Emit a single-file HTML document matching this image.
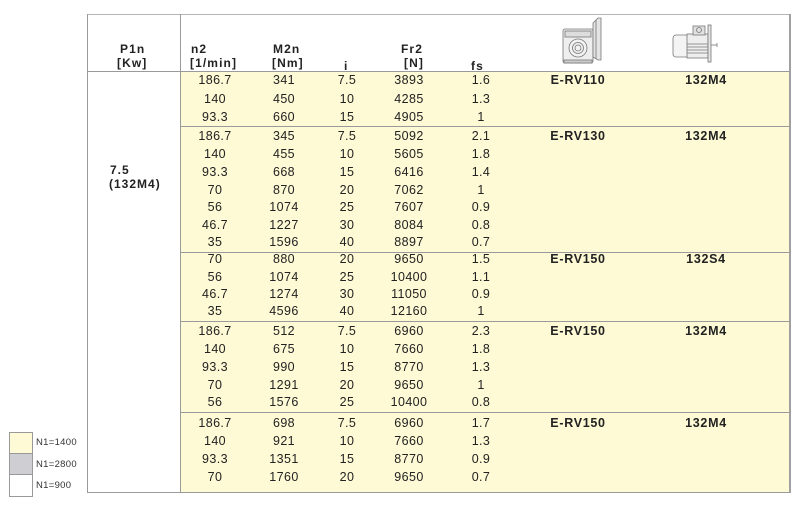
<!DOCTYPE html>
<html><head><meta charset="utf-8">
<style>
*{margin:0;padding:0;box-sizing:border-box}
html,body{width:800px;height:515px;background:#fff;overflow:hidden}
body{position:relative;font-family:"Liberation Sans",Arial,sans-serif;color:#222}
.abs{position:absolute}
.yel{position:absolute;left:181px;top:72px;width:608px;height:420px;background:#fefad5}
.hl{position:absolute;height:1px;background:#9a9a9a}
.vl{position:absolute;width:1px;background:#9a9a9a}
.r{position:absolute;left:0;width:800px;height:16px;line-height:16px;font-size:12.5px;letter-spacing:0.4px}
.r span{position:absolute;width:100px;text-align:center;top:0}
.c1{left:165px}.c2{left:234px}.c3{left:297px}.c4{left:359px}.c5{left:431px}
.m{position:absolute;width:120px;text-align:center;font-weight:bold;font-size:12.5px;letter-spacing:0.7px;line-height:16px;height:16px}
.h{position:absolute;font-weight:bold;font-size:12px;letter-spacing:1.1px;line-height:14px;white-space:nowrap}
.leg{position:absolute;left:9px;width:24px;height:22px;border:1px solid #999}
.lt{position:absolute;left:36px;font-size:9.5px;letter-spacing:0.3px;color:#333;line-height:10px}
</style></head><body>
<div class="yel"></div>
<!-- borders -->
<div class="hl" style="left:87px;top:14px;width:703px;background:#b5b5b5"></div>
<div class="hl" style="left:87px;top:71px;width:703px"></div>
<div class="hl" style="left:87px;top:492px;width:703px"></div>
<div class="vl" style="left:87px;top:14px;height:479px"></div>
<div class="vl" style="left:180px;top:14px;height:479px"></div>
<div class="vl" style="left:789px;top:14px;height:479px;width:1.5px;background:#a0a0a0"></div>
<div class="hl" style="left:180px;top:126px;width:609px"></div>
<div class="hl" style="left:180px;top:252px;width:609px"></div>
<div class="hl" style="left:180px;top:321px;width:609px"></div>
<div class="hl" style="left:180px;top:412px;width:609px"></div>

<!-- header -->
<div class="h" style="left:120px;top:42px">P1n</div>
<div class="h" style="left:117px;top:56px">[Kw]</div>
<div class="h" style="left:191px;top:42px">n2</div>
<div class="h" style="left:190px;top:56px">[1/min]</div>
<div class="h" style="left:273px;top:42px">M2n</div>
<div class="h" style="left:272px;top:56px">[Nm]</div>
<div class="h" style="left:344px;top:59px">i</div>
<div class="h" style="left:401px;top:42px">Fr2</div>
<div class="h" style="left:404px;top:56px">[N]</div>
<div class="h" style="left:471px;top:59px">fs</div>

<!-- gearbox icon -->
<svg class="abs" style="left:555px;top:15px" width="50" height="55" viewBox="0 0 50 55">
 <g fill="none" stroke="#777" stroke-width="0.8">
  <rect x="8" y="14" width="30" height="34" rx="2" fill="#eee"/>
  <rect x="10" y="16" width="26" height="6" fill="#ddd"/>
  <polygon points="38,8 43,3 46,3 46,45 43,45 38,42" fill="#e4e4e4"/>
  <line x1="41" y1="5" x2="41" y2="44"/>
  <circle cx="23" cy="33" r="9" fill="#f2f2f2"/>
  <circle cx="23" cy="33" r="5.5"/>
  <circle cx="23" cy="33" r="3"/>
  <rect x="9" y="45" width="28" height="3" fill="#ccc"/>
 </g>
</svg>
<!-- motor icon -->
<svg class="abs" style="left:665px;top:20px" width="60" height="45" viewBox="0 0 60 45">
 <g fill="none" stroke="#777" stroke-width="0.8">
  <rect x="8" y="15" width="16" height="22" rx="3" fill="#f4f4f4"/>
  <rect x="22" y="14" width="21" height="24" fill="#eee"/>
  <line x1="22" y1="24" x2="43" y2="24"/><line x1="22" y1="27" x2="43" y2="27"/>
  <line x1="22" y1="30" x2="43" y2="30"/><line x1="22" y1="33" x2="43" y2="33"/>
  <rect x="28" y="6" width="12" height="9" fill="#e0e0e0"/>
  <circle cx="34" cy="10" r="2.5"/>
  <rect x="43" y="5" width="3" height="37" fill="#e4e4e4"/>
  <line x1="46" y1="25" x2="52" y2="25"/><line x1="52" y1="23" x2="52" y2="27"/>
 </g>
</svg>

<!-- left cell -->
<div class="h" style="left:110px;top:163px;letter-spacing:1px">7.5</div>
<div class="h" style="left:109px;top:177px;letter-spacing:1px">(132M4)</div>

<!-- models -->
<div class="m" style="left:518px;top:72px">E-RV110</div><div class="m" style="left:646px;top:72px">132M4</div>
<div class="m" style="left:518px;top:128px">E-RV130</div><div class="m" style="left:646px;top:128px">132M4</div>
<div class="m" style="left:518px;top:251px">E-RV150</div><div class="m" style="left:646px;top:251px">132S4</div>
<div class="m" style="left:518px;top:323px">E-RV150</div><div class="m" style="left:646px;top:323px">132M4</div>
<div class="m" style="left:518px;top:415px">E-RV150</div><div class="m" style="left:646px;top:415px">132M4</div>

<!-- rows -->
<div class="r" style="top:72px"><span class="c1">186.7</span><span class="c2">341</span><span class="c3">7.5</span><span class="c4">3893</span><span class="c5">1.6</span></div>
<div class="r" style="top:90.5px"><span class="c1">140</span><span class="c2">450</span><span class="c3">10</span><span class="c4">4285</span><span class="c5">1.3</span></div>
<div class="r" style="top:109px"><span class="c1">93.3</span><span class="c2">660</span><span class="c3">15</span><span class="c4">4905</span><span class="c5">1</span></div>

<div class="r" style="top:128px"><span class="c1">186.7</span><span class="c2">345</span><span class="c3">7.5</span><span class="c4">5092</span><span class="c5">2.1</span></div>
<div class="r" style="top:146px"><span class="c1">140</span><span class="c2">455</span><span class="c3">10</span><span class="c4">5605</span><span class="c5">1.8</span></div>
<div class="r" style="top:164px"><span class="c1">93.3</span><span class="c2">668</span><span class="c3">15</span><span class="c4">6416</span><span class="c5">1.4</span></div>
<div class="r" style="top:182px"><span class="c1">70</span><span class="c2">870</span><span class="c3">20</span><span class="c4">7062</span><span class="c5">1</span></div>
<div class="r" style="top:199px"><span class="c1">56</span><span class="c2">1074</span><span class="c3">25</span><span class="c4">7607</span><span class="c5">0.9</span></div>
<div class="r" style="top:217px"><span class="c1">46.7</span><span class="c2">1227</span><span class="c3">30</span><span class="c4">8084</span><span class="c5">0.8</span></div>
<div class="r" style="top:234px"><span class="c1">35</span><span class="c2">1596</span><span class="c3">40</span><span class="c4">8897</span><span class="c5">0.7</span></div>

<div class="r" style="top:251px"><span class="c1">70</span><span class="c2">880</span><span class="c3">20</span><span class="c4">9650</span><span class="c5">1.5</span></div>
<div class="r" style="top:269px"><span class="c1">56</span><span class="c2">1074</span><span class="c3">25</span><span class="c4">10400</span><span class="c5">1.1</span></div>
<div class="r" style="top:286px"><span class="c1">46.7</span><span class="c2">1274</span><span class="c3">30</span><span class="c4">11050</span><span class="c5">0.9</span></div>
<div class="r" style="top:303px"><span class="c1">35</span><span class="c2">4596</span><span class="c3">40</span><span class="c4">12160</span><span class="c5">1</span></div>

<div class="r" style="top:323px"><span class="c1">186.7</span><span class="c2">512</span><span class="c3">7.5</span><span class="c4">6960</span><span class="c5">2.3</span></div>
<div class="r" style="top:341px"><span class="c1">140</span><span class="c2">675</span><span class="c3">10</span><span class="c4">7660</span><span class="c5">1.8</span></div>
<div class="r" style="top:359px"><span class="c1">93.3</span><span class="c2">990</span><span class="c3">15</span><span class="c4">8770</span><span class="c5">1.3</span></div>
<div class="r" style="top:377px"><span class="c1">70</span><span class="c2">1291</span><span class="c3">20</span><span class="c4">9650</span><span class="c5">1</span></div>
<div class="r" style="top:394px"><span class="c1">56</span><span class="c2">1576</span><span class="c3">25</span><span class="c4">10400</span><span class="c5">0.8</span></div>

<div class="r" style="top:415px"><span class="c1">186.7</span><span class="c2">698</span><span class="c3">7.5</span><span class="c4">6960</span><span class="c5">1.7</span></div>
<div class="r" style="top:433px"><span class="c1">140</span><span class="c2">921</span><span class="c3">10</span><span class="c4">7660</span><span class="c5">1.3</span></div>
<div class="r" style="top:451px"><span class="c1">93.3</span><span class="c2">1351</span><span class="c3">15</span><span class="c4">8770</span><span class="c5">0.9</span></div>
<div class="r" style="top:469px"><span class="c1">70</span><span class="c2">1760</span><span class="c3">20</span><span class="c4">9650</span><span class="c5">0.7</span></div>

<!-- legend -->
<div class="leg" style="top:432px;background:#fefad5"></div>
<div class="leg" style="top:453px;background:#cfcfd3"></div>
<div class="leg" style="top:474px;height:23px;background:#fff"></div>
<div class="lt" style="top:438px">N1=1400</div>
<div class="lt" style="top:460px">N1=2800</div>
<div class="lt" style="top:481px">N1=900</div>
</body></html>
